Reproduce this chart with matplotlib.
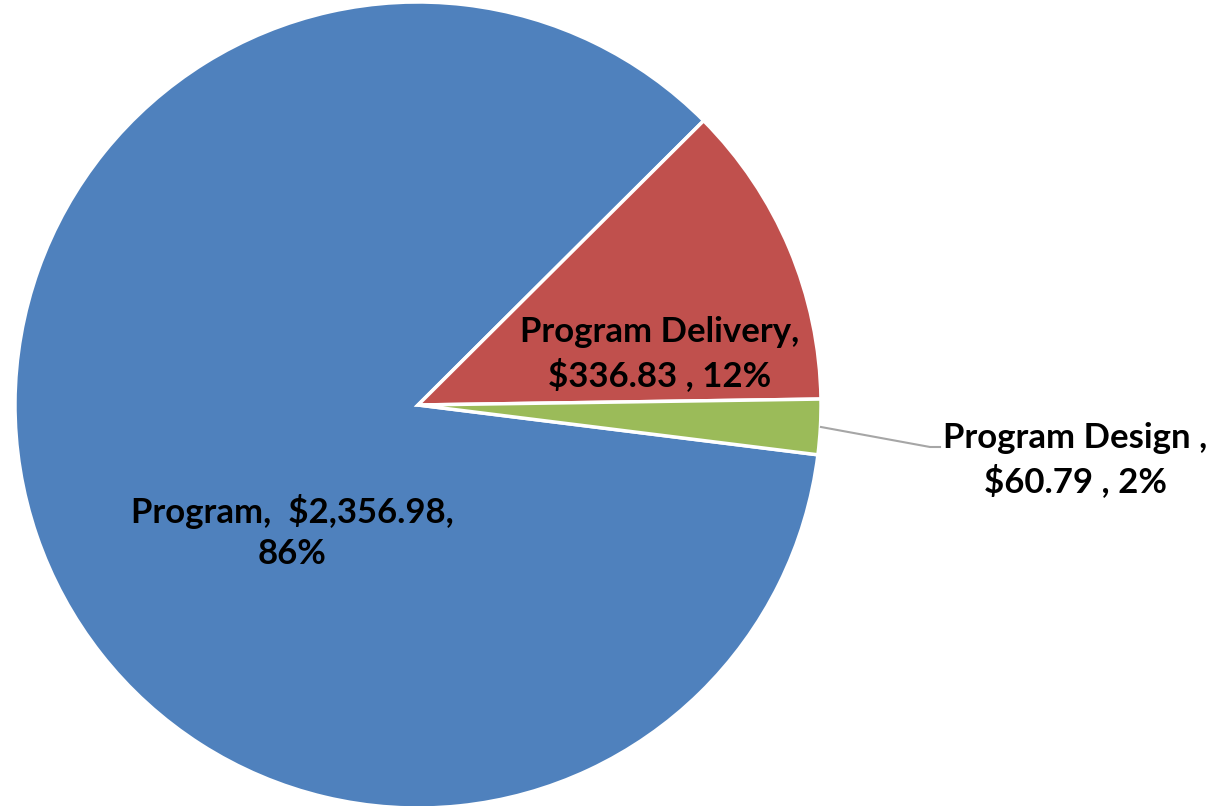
import matplotlib.pyplot as plt

# slice data (clockwise order, like the original Excel chart)
categories = ['Program', 'Program Delivery', 'Program Design']
amounts = [2356.98, 336.83, 60.79]
percents = ['86%', '12%', '2%']
colors = ['#4F81BD', '#C0504D', '#9BBB59']

W, H = 1218, 806
cx, cy, R = 418, 405, 403

fig = plt.figure(figsize=(W / 100, H / 100), dpi=100)
ax = fig.add_axes([0, 0, 1, 1])

wedges, _ = ax.pie(amounts, colors=colors, startangle=-7.1, counterclock=False,
                   radius=1.0, center=(0, 0), frame=True,
                   wedgeprops=dict(edgecolor='white', linewidth=2.5))
ax.set_xlim(-cx / R, (W - cx) / R)
ax.set_ylim((cy - H) / R, cy / R)
ax.set_aspect('auto')
ax.axis('off')

def px(x, y):
    return (x - cx) / R, (cy - y) / R

font = dict(family=['Lato', 'DejaVu Sans'], fontweight='bold', fontsize=25,
            ha='center', va='center', color='black', linespacing=1.38)

lbl0 = '%s,  $%s,\n%s' % (categories[0], format(amounts[0], ',.2f'), percents[0])
lbl1 = '%s,\n$%.2f , %s' % (categories[1], amounts[1], percents[1])
lbl2 = '%s ,\n$%.2f , %s' % (categories[2], amounts[2], percents[2])

ax.text(*px(292, 532), lbl0, **font)
ax.text(*px(660, 354), lbl1, **font)
ax.text(*px(1075, 460), lbl2, **font)

# leader line for the small slice
pts = [px(821, 427), px(930, 447), px(940, 447)]
ax.plot([p[0] for p in pts], [p[1] for p in pts], color='#A6A6A6', lw=1.5, clip_on=False)

fig.savefig('out.png', dpi=100)
